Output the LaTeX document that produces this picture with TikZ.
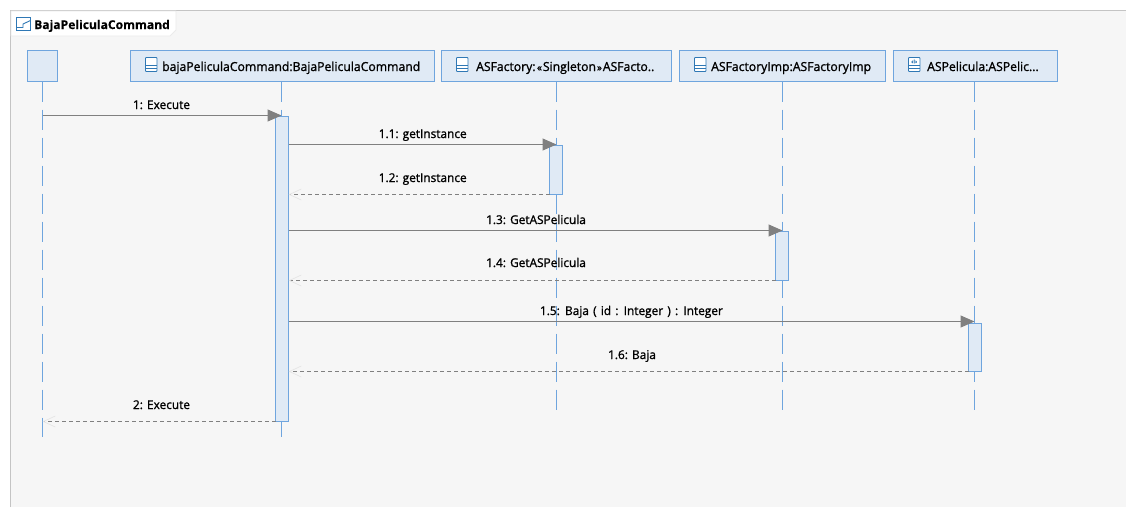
\documentclass[tikz,border=0pt]{standalone}
\usepackage{fontspec}
\setmainfont[FakeBold=0.12]{Open Sans}
\newfontfamily\labelfont[FakeStretch=0.98,FakeBold=1.2]{Open Sans}
\usetikzlibrary{arrows.meta}
\definecolor{framebg}{HTML}{F6F6F6}
\definecolor{frameln}{HTML}{C4C4C4}
\definecolor{boxfill}{HTML}{E0EAF5}
\definecolor{boxln}{HTML}{6FA5DE}
\definecolor{msgln}{HTML}{808080}
\definecolor{iconln}{HTML}{2F78B5}
\tikzset{
  lifebox/.style={draw=boxln,fill=boxfill,line width=1pt,minimum height=31pt,inner sep=0pt,outer sep=0pt,anchor=north west},
  boxtext/.style={font=\labelfont\fontsize{12.45}{14}\selectfont,text=black,inner sep=0pt,anchor=base west},
  msgtext/.style={font=\labelfont\fontsize{12.1}{14}\selectfont,text=black,inner sep=0pt,anchor=base},
  lifeline/.style={draw=boxln,line width=1pt,dash pattern=on 20pt off 8pt},
  actbar/.style={draw=boxln,fill=boxfill,line width=1pt,minimum width=13pt,inner sep=0pt,outer sep=0pt,anchor=north west},
  callmsg/.style={draw=msgln,line width=1pt,-{Triangle[length=14pt,width=12pt,fill=msgln,color=msgln]}},
  retmsg/.style={draw=msgln,line width=.8pt,dash pattern=on 4pt off 3pt,-{Straight Barb[length=12pt,width=11pt,color=black!10,line width=.7pt]}},
  iconln/.style={draw=iconln,line width=.9pt}
}
\newcommand{\classicon}[2]{%
  \draw[iconln,fill=white,rounded corners=.8pt] (#1,#2) rectangle ++(11.5,14);
  \draw[iconln] (#1,#2+7.5) -- ++(11.5,0) (#1,#2+11) -- ++(11.5,0);}
\begin{document}
\begin{tikzpicture}[x=1pt,y=-1pt]
\useasboundingbox (0,0) rectangle (1126,507);
\fill[white] (0,0) rectangle (1126,507);
\fill[framebg] (11,11) rectangle (1126,507);
\draw[frameln,line width=1pt] (10.5,507) -- (10.5,10.5) -- (1126,10.5);
\path[fill=white,draw=black!8,line width=.8pt] (11,11) -- (176,11) -- (176,30) -- (170,36) -- (11,36) -- cycle;
\draw[iconln] (16.5,17.5) rectangle (30.5,30.5);
\draw[iconln] (16.5,27.5) -- (23,27.5) -- (23,24) -- (30.5,20.5);
\node[font=\fontsize{12.1}{14}\selectfont\bfseries,inner sep=0pt,anchor=base west] (title) at (34,29) {BajaPeliculaCommand};

% lifeline heads
\node[lifebox,minimum width=30pt] (actor) at (27.5,50.5) {};
\node[lifebox,minimum width=304pt] (cmd) at (130.5,50.5) {};
\node[lifebox,minimum width=230pt] (fac) at (441.5,50.5) {};
\node[lifebox,minimum width=206pt] (imp) at (679.5,50.5) {};
\node[lifebox,minimum width=163.5pt] (pel) at (893.5,50.5) {};

\classicon{145.5}{57.5}
\classicon{456.5}{57.5}
\classicon{694.5}{57.5}
\classicon{908.5}{57.5}
\node[font=\fontsize{5.5}{5.5}\selectfont\bfseries,text=iconln,inner sep=0pt] (ifc) at (914.2,61.5) {‹I›};

\node[boxtext] (t1) at (162,71) {bajaPeliculaCommand:BajaPeliculaCommand};
\node[boxtext] (t2) at (476,71) {ASFactory:\hspace{1.5pt}{\fontsize{10}{10}\selectfont\guillemotleft}\hspace{1pt}Singleton\hspace{1pt}{\fontsize{10}{10}\selectfont\guillemotright}\hspace{1pt}ASFacto..};
\node[boxtext] (t3) at (711,71) {ASFactoryImp:ASFactoryImp};
\node[boxtext] (t4) at (927,71) {ASPelicula:ASPelic...};

% lifeline ends
\coordinate (e0) at (42.5,437);
\coordinate (e1) at (281.5,437);
\coordinate (e2) at (556.5,410);
\coordinate (e3) at (782.5,410);
\coordinate (e4) at (974.5,410);
\draw[lifeline] (actor.south) -- (e0);
\draw[lifeline] (cmd.south -| e1) -- (e1);
\draw[lifeline] (fac.south -| e2) -- (e2);
\draw[lifeline] (imp.south -| e3) -- (e3);
\draw[lifeline] (pel.south -| e4) -- (e4);

% activations
\node[actbar,minimum height=305pt] (a1) at (275.5,116.5) {};
\node[actbar,minimum height=49pt] (a2) at (549.5,145.5) {};
\node[actbar,minimum height=49pt] (a3) at (775.5,231.5) {};
\node[actbar,minimum height=48pt] (a4) at (968.5,323.5) {};

% message ends
\coordinate (m1s) at (42.5,115.5);
\coordinate (m1e) at (281.5,115.5);
\coordinate (m2s) at (a1.east |- 0,144.5);
\coordinate (m2e) at (556.5,144.5);
\coordinate (m3s) at (a2.west |- 0,194.5);
\coordinate (m3e) at (a1.east |- 0,194.5);
\coordinate (m4s) at (a1.east |- 0,230.5);
\coordinate (m4e) at (782.5,230.5);
\coordinate (m5s) at (a3.west |- 0,280.5);
\coordinate (m5e) at (a1.east |- 0,280.5);
\coordinate (m6s) at (a1.east |- 0,321.5);
\coordinate (m6e) at (974.5,321.5);
\coordinate (m7s) at (a4.west |- 0,371.5);
\coordinate (m7e) at (a1.east |- 0,371.5);
\coordinate (m8s) at (a1.south west);
\coordinate (m8e) at (42.5,421.5);

\draw[callmsg] (m1s) -- (m1e);
\draw[callmsg] (m2s) -- (m2e);
\draw[retmsg] (m3s) -- (m3e);
\draw[callmsg] (m4s) -- (m4e);
\draw[retmsg] (m5s) -- (m5e);
\draw[callmsg] (m6s) -- (m6e);
\draw[retmsg] (m7s) -- (m7e);
\draw[retmsg] (m8s) -- (m8e);

\node[msgtext] (l1) at (161.5,109) {1: Execute};
\node[msgtext] (l2) at (422.7,138) {1.1: getInstance};
\node[msgtext] (l3) at (422.7,182) {1.2: getInstance};
\node[msgtext] (l4) at (536,224) {1.3: GetASPelicula};
\node[msgtext] (l5) at (536,267) {1.4: GetASPelicula};
\node[msgtext] (l6) at (631.4,315) {\spaceskip=4.2pt 1.5: Baja ( id : Integer ) : Integer};
\node[msgtext] (l7) at (632,359) {1.6: Baja};
\node[msgtext] (l8) at (161.5,409) {2: Execute};
\end{tikzpicture}
\end{document}
